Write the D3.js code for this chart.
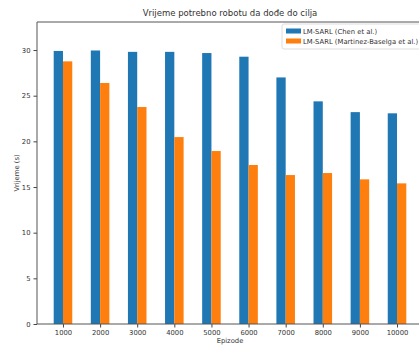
<!DOCTYPE html>
<html>
<head>
<meta charset="utf-8">
<script src="https://cdn.jsdelivr.net/npm/d3@7"></script>
<style>
  html, body { margin: 0; padding: 0; background: #fff; overflow: hidden; }
  svg { display: block; }
  text { font-family: "DejaVu Sans", sans-serif; fill: #333; }
</style>
</head>
<body>
<div id="chart"></div>
<script>
const episodes = ['1000', '2000', '3000', '4000', '5000', '6000', '7000', '8000', '9000', '10000'];
const chen = [29.9, 29.95, 29.8, 29.8, 29.67, 29.27, 27.0, 24.38, 23.2, 23.07];
const martinez = [28.76, 26.39, 23.76, 20.47, 18.94, 17.41, 16.31, 16.53, 15.84, 15.4];
const seriesNames = ['LM-SARL (Chen et al.)', 'LM-SARL (Martinez-Baselga et al.)'];
const yTicks = [0, 5, 10, 15, 20, 25, 30];

const width = 419, height = 345;
const margin = {top: 22, left: 37, bottom: 21, right: -4};
const innerWidth = width - margin.left - margin.right;
const innerHeight = height - margin.top - margin.bottom;

const colors = ['#1f77b4', '#ff7f0e'];

const svg = d3.select('#chart').append('svg')
  .attr('width', width)
  .attr('height', height);

const g = svg.append('g')
  .attr('transform', `translate(${margin.left},${margin.top})`);

// positions like pandas: index 0..9, bars 0.25 wide each
const xScale = d3.scaleLinear()
  .domain([-0.7, 9.7])
  .range([0, innerWidth]);

const yScale = d3.scaleLinear()
  .domain([0, 33.07])
  .range([innerHeight, 0]);

const barW = 0.25;
const series = [chen, martinez];

series.forEach((vals, si) => {
  g.selectAll('.bar' + si)
    .data(vals)
    .enter().append('rect')
    .attr('x', (d, i) => xScale(i - barW + si * barW))
    .attr('width', xScale(barW) - xScale(0))
    .attr('y', d => yScale(d))
    .attr('height', d => innerHeight - yScale(d))
    .attr('fill', colors[si]);
});

const xAxis = d3.axisBottom(xScale)
  .tickValues(d3.range(episodes.length))
  .tickFormat(i => episodes[i])
  .tickSize(3.5)
  .tickPadding(3);

const yAxis = d3.axisLeft(yScale)
  .tickValues(yTicks)
  .tickSize(3.5)
  .tickPadding(3);

const xAxisG = g.append('g')
  .attr('transform', `translate(0,${innerHeight})`)
  .call(xAxis);
const yAxisG = g.append('g').call(yAxis);

[xAxisG, yAxisG].forEach(ax => {
  ax.select('.domain').remove();
  ax.selectAll('line').attr('stroke', '#444');
  ax.selectAll('text').style('font-size', '6.8px').attr('fill', '#333');
});

// spines (left, bottom, top; right is off the page)
g.append('line').attr('x1', 0).attr('x2', 0).attr('y1', 0).attr('y2', innerHeight)
  .attr('stroke', '#555').attr('stroke-width', 1);
g.append('line').attr('x1', 0).attr('x2', innerWidth).attr('y1', innerHeight).attr('y2', innerHeight)
  .attr('stroke', '#555').attr('stroke-width', 1);
g.append('line').attr('x1', 0).attr('x2', innerWidth).attr('y1', 0).attr('y2', 0)
  .attr('stroke', '#555').attr('stroke-width', 1);

// labels
svg.append('text')
  .attr('x', margin.left + innerWidth / 2)
  .attr('y', 16)
  .attr('text-anchor', 'middle')
  .style('font-size', '8.5px')
  .text('Vrijeme potrebno robotu da dođe do cilja');

svg.append('text')
  .attr('x', margin.left + innerWidth / 2)
  .attr('y', 343)
  .attr('text-anchor', 'middle')
  .style('font-size', '6.8px')
  .text('Epizode');

svg.append('text')
  .attr('transform', `translate(19,${margin.top + innerHeight / 2}) rotate(-90)`)
  .attr('text-anchor', 'middle')
  .style('font-size', '6.8px')
  .text('Vrijeme (s)');

// legend
const legend = svg.append('g').attr('transform', 'translate(282,24)');
legend.append('rect')
  .attr('width', 145).attr('height', 25)
  .attr('fill', '#fff').attr('stroke', '#ddd').attr('rx', 2);
seriesNames.forEach((name, i) => {
  legend.append('rect')
    .attr('x', 4).attr('y', 4.5 + i * 10)
    .attr('width', 15).attr('height', 5)
    .attr('fill', colors[i]);
  legend.append('text')
    .attr('x', 21).attr('y', 9.5 + i * 10)
    .style('font-size', '6.8px')
    .text(name);
});
</script>
</body>
</html>
